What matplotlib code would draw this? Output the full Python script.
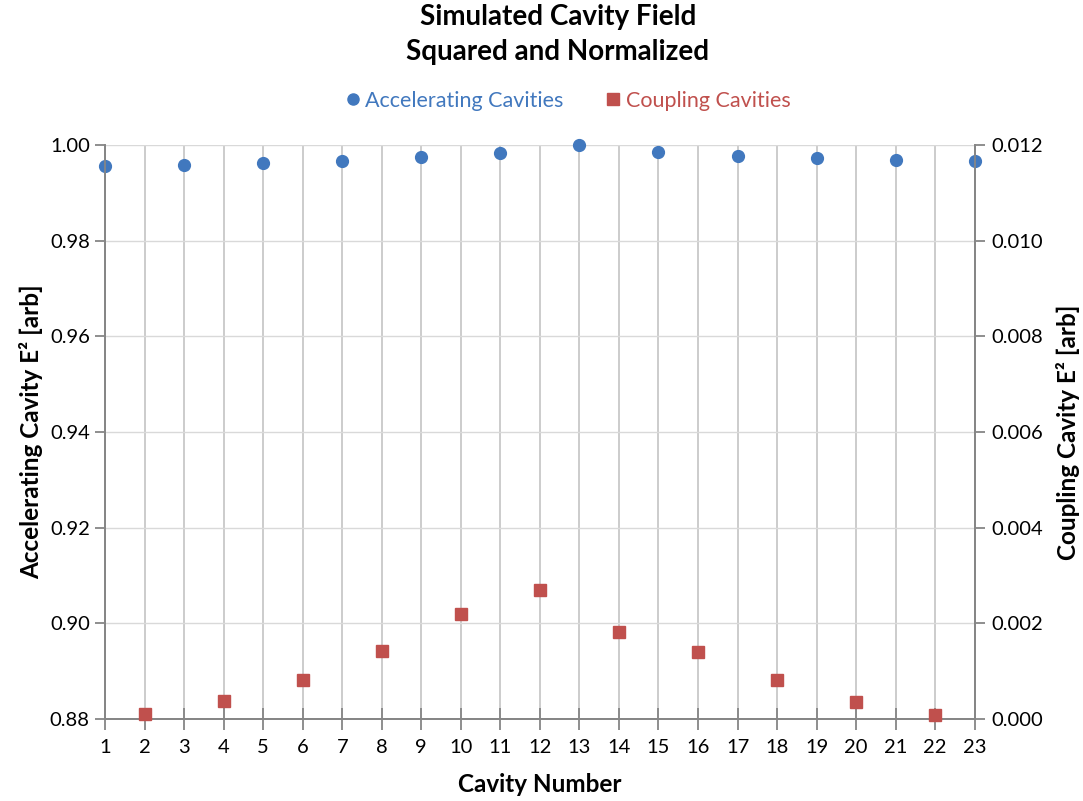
import matplotlib
matplotlib.use("Agg")
import matplotlib.pyplot as plt
from matplotlib.lines import Line2D

plt.rcParams['font.family'] = ['Lato', 'DejaVu Sans']

acc_x = [1, 3, 5, 7, 9, 11, 13, 15, 17, 19, 21, 23]
acc_y = [0.9957, 0.9959, 0.9962, 0.9967, 0.9975, 0.9983, 1.0000, 0.9986, 0.9978, 0.9973, 0.9970, 0.9968]
cpl_x = [2, 4, 6, 8, 10, 12, 14, 16, 18, 20, 22]
cpl_y = [0.00009, 0.00036, 0.00080, 0.00142, 0.00218, 0.00270, 0.00182, 0.00139, 0.00080, 0.00035, 0.00008]

title_lines = ["Simulated Cavity Field", "Squared and Normalized"]
xlabel = "Cavity Number"
ylabel_left = "Accelerating Cavity E\u00b2 [arb]"
ylabel_right = "Coupling Cavity E\u00b2 [arb]"
acc_label = "Accelerating Cavities"
cpl_label = "Coupling Cavities"
left_ticks = [0.88, 0.90, 0.92, 0.94, 0.96, 0.98, 1.00]
right_ticks = [0.0, 0.002, 0.004, 0.006, 0.008, 0.010, 0.012]

blue = "#4178BE"
red = "#C0504D"
axis_grey = "#868686"
grid_grey = "#C8C8C8"

fig = plt.figure(figsize=(10.83, 8.01), dpi=100)
ax = fig.add_axes([0.097, 0.1028, 0.803, 0.7158])
ax2 = ax.twinx()

ax.set_xlim(1, 23)
ax.set_ylim(0.88, 1.00)
ax2.set_ylim(0.0, 0.012)

ax.set_xticks(range(1, 24))
ax.set_yticks(left_ticks)
ax.set_yticklabels([f"{v:.2f}" for v in left_ticks])
ax2.set_yticks(right_ticks)
ax2.set_yticklabels([f"{v:.3f}" for v in right_ticks])

ax.grid(True, axis='y', color="#D9D9D9", linewidth=1.0)
ax.grid(True, axis='x', color=grid_grey, linewidth=1.3)
ax.set_axisbelow(True)

for a in (ax, ax2):
    a.spines['top'].set_visible(False)
    for s in ('left', 'right', 'bottom'):
        a.spines[s].set_color(axis_grey)
        a.spines[s].set_linewidth(1.3)

ax.tick_params(axis='x', direction='inout', length=16, width=1.3, color=axis_grey,
               labelsize=14.5, pad=7)
ax.tick_params(axis='y', direction='out', length=7, width=1.3, color=axis_grey,
               labelsize=14.5, pad=4)
ax2.tick_params(axis='y', direction='out', length=7, width=1.3, color=axis_grey,
                labelsize=14.5, pad=5)

ax.plot(acc_x, acc_y, linestyle='none', marker='o', markersize=8.5, color=blue,
        markeredgecolor=blue, zorder=5, clip_on=False)
ax2.plot(cpl_x, cpl_y, linestyle='none', marker='s', markersize=8, color=red,
         markeredgecolor=red, zorder=5, clip_on=False)

ax.set_xlabel(xlabel, fontsize=17.5, fontweight='bold', labelpad=12)
ax.set_ylabel(ylabel_left, fontsize=17.5, fontweight='bold', labelpad=5)
ax2.set_ylabel(ylabel_right, fontsize=17.5, fontweight='bold', rotation=90, labelpad=9)

title_x = 558 / 1083
fig.text(title_x, 1 - 17 / 801, title_lines[0], ha='center', va='center', fontsize=20,
         fontweight='bold')
fig.text(title_x, 1 - 52 / 801, title_lines[1], ha='center', va='center', fontsize=20,
         fontweight='bold')

handles = [Line2D([], [], linestyle='none', marker='o', markersize=8, color=blue),
           Line2D([], [], linestyle='none', marker='s', markersize=8, color=red)]
fig.legend(handles, [acc_label, cpl_label], loc='center', bbox_to_anchor=(0.523, 1 - 101 / 801),
           ncol=2, frameon=False, fontsize=15.5, labelcolor='linecolor',
           handletextpad=0.1, columnspacing=1.8, handlelength=1.0)

fig.savefig("out.png", dpi=100)
